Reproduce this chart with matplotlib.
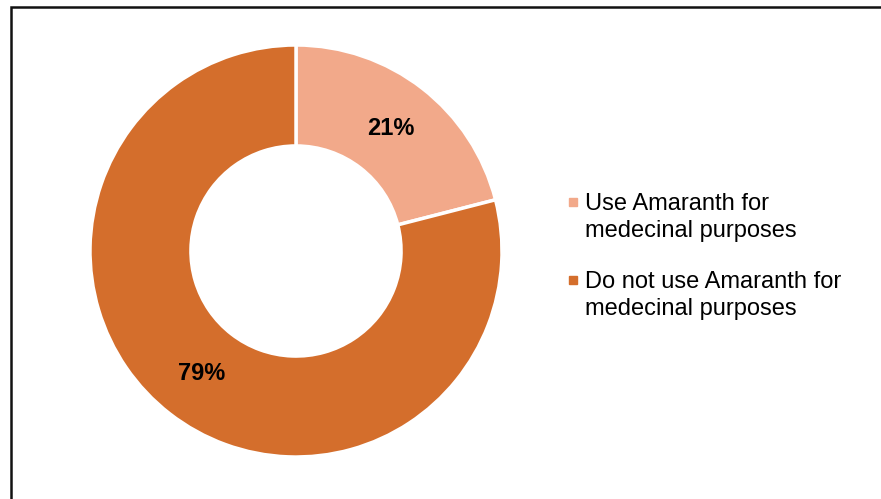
import matplotlib.pyplot as plt
from matplotlib.patches import Rectangle

# share of respondents
labels = ['Use Amaranth for\nmedecinal purposes',
          'Do not use Amaranth for\nmedecinal purposes']
shares = [21, 79]
colors = ['#F2A98A', '#D46E2C']

plt.rcParams['font.family'] = ['Liberation Sans', 'DejaVu Sans']

W, H = 881, 499
fig = plt.figure(figsize=(W / 100, H / 100), dpi=100)

# donut, centre (296, 251) px, radius 206 px
cx, cy, r = 296, 251, 206
ax = fig.add_axes([(cx - r) / W, (H - cy - r) / H, 2 * r / W, 2 * r / H])
wedges, texts, pcts = ax.pie(
    shares, colors=colors, startangle=90, counterclock=False,
    autopct='%d%%', pctdistance=0.75,
    wedgeprops=dict(width=0.49, edgecolor='white', linewidth=2.5),
    textprops=dict(fontsize=17, fontweight='bold', color='black'))
ax.set_xlim(-1, 1)
ax.set_ylim(-1, 1)
ax.set_aspect('equal')

# legend drawn by hand so the square sits on the first line
ly = [202, 280]
for lab, col, y in zip(labels, colors, ly):
    fig.patches.append(Rectangle((569 / W, (H - y - 4) / H), 8 / W, 8 / H,
                                 transform=fig.transFigure, color=col))
    fig.text(585 / W, (H - y + 9) / H, lab, fontsize=17, va='top',
             ha='left', linespacing=1.28)

# chart frame, cut off on the right and bottom
fig.patches.append(Rectangle((10.5 / W, -0.1), 1.0, (H - 7) / H + 0.1,
                             transform=fig.transFigure, fill=False,
                             edgecolor='#111111', linewidth=1.8))

fig.savefig('out.png', dpi=100)
